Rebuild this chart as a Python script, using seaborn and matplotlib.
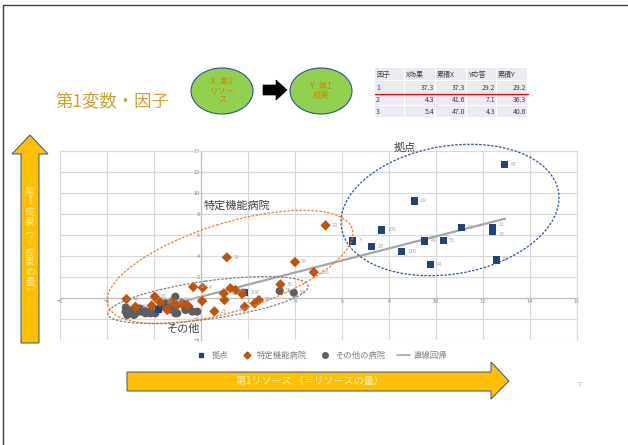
import numpy as np
import pandas as pd
import matplotlib
matplotlib.use('Agg')
import matplotlib.pyplot as plt
import seaborn as sns
from matplotlib.patches import Ellipse, Polygon, Rectangle
from matplotlib.lines import Line2D

# ---- data ----
# 拠点
kyoten_x = [12.93, 9.10, 7.68, 6.44, 7.27, 8.54, 9.50, 10.30, 9.77, 11.07, 12.40, 12.40, 12.57, 1.86, -1.80]
kyoten_y = [12.73, 9.24, 6.48, 5.43, 4.92, 4.41, 5.43, 5.49, 3.17, 6.70, 6.70, 6.38, 3.62, 0.54, -1.08]
kyoten_lab = ['87', '89', '105', '3', '28', '110', '88', '50', '41', '60', '11', '33', '52', '108', '']

# 特定機能病院
tokutei_x = [5.30, 1.10, 4.00, 4.80, 3.38, -0.33, 0.07, 1.25, 1.47, 0.97, 1.75, 1.00, 0.05, 2.46,
             2.28, 1.86, 0.57, -3.17, -2.79, -2.10, -1.97, -1.75, -1.44, -1.26, -1.01, -0.83, -0.59]
tokutei_y = [6.92, 3.87, 3.43, 2.45, 1.30, 1.05, 0.98, 0.92, 0.76, 0.44, 0.38, -0.19, -0.29, -0.19,
             -0.51, -0.83, -1.27, -0.10, -0.83, -0.73, 0.13, -0.38, -1.14, -0.38, -0.70, -0.51, -0.67]
tokutei_lab = ['22', '14', '39', '106', '36', '92', '4', '18', '55', '30', '', '', '', '47',
               '', '', '21', '44', '10', '', '16', '13', '', '23', '', '', '']

# その他の病院
sonota_x = [-3.21, -3.00, -2.79, -2.57, -2.36, -2.15, -1.94, -1.72, -1.51, -1.23, -1.01, -0.80,
            -0.66, -0.37, -0.16, -1.09, -1.58, -3.14, -2.85, -2.15, -1.09, -3.20, -2.90, -2.60,
            -2.40, -0.50, 3.35, 3.95, -1.30, -0.66]
sonota_y = [-1.30, -1.46, -1.46, -1.30, -1.46, -1.30, -1.46, -0.83, -0.50, -0.98, -1.46, -0.50,
            -1.14, -1.30, -1.30, 0.13, -0.83, -1.62, -1.62, -1.46, -1.46, -0.90, -1.10, -1.00,
            -1.20, -0.90, 0.67, 0.50, -1.10, -1.08]
sonota_lab = [''] * 26 + ['56', '58', '', '']

# 直線回帰 (end points of the Excel trendline)
trend_x = [-3.2, 12.93]
trend_y = [-1.71, 7.55]

x_ticks = list(range(-6, 17, 2))
y_ticks = list(range(-4, 15, 2))

# 因子 table
tbl_head = ['因子', 'X効果', '累積X', 'Y応答', '累積Y']
tbl_rows = [['1', '37.3', '37.3', '29.2', '29.2'],
            ['2', '4.3', '41.6', '7.1', '36.3'],
            ['3', '5.4', '47.0', '4.3', '40.6']]

groups = ['その他の病院', '拠点', '特定機能病院']
df = pd.concat([
    pd.DataFrame({'x': sonota_x, 'y': sonota_y, 'lab': sonota_lab, 'group': groups[0]}),
    pd.DataFrame({'x': kyoten_x, 'y': kyoten_y, 'lab': kyoten_lab, 'group': groups[1]}),
    pd.DataFrame({'x': tokutei_x, 'y': tokutei_y, 'lab': tokutei_lab, 'group': groups[2]}),
], ignore_index=True)

sns.set_theme(style='white')
plt.rcParams['font.family'] = ['Noto Sans CJK JP', 'DejaVu Sans']

W, H = 628, 445
fig = plt.figure(figsize=(W / 100, H / 100), dpi=100)
fig.patch.set_facecolor('white')

# chart
ax = fig.add_axes([60 / W, 1 - 340 / H, (577 - 60) / W, (340 - 151) / H])
pal = {'拠点': '#24427A', '特定機能病院': '#C0540F', 'その他の病院': '#5E5E5E'}
mk = {'拠点': 's', '特定機能病院': 'D', 'その他の病院': 'o'}
sz = {'拠点': 26, '特定機能病院': 28, 'その他の病院': 34}
sns.lineplot(x=trend_x, y=trend_y, color='#A6A6A6', lw=1.6, ax=ax, zorder=1.5)
sns.scatterplot(data=df, x='x', y='y', hue='group', style='group', size='group', sizes=sz,
                palette=pal, markers=mk, edgecolor='none', legend=False, ax=ax, zorder=3)
# small tweaks so the two labels at (12.4, 6.5) don't sit on each other
nudge = {'11': 2.5, '33': -2.5}
for _, r in df.iterrows():
    if r['lab']:
        ax.annotate(r['lab'], (r['x'], r['y']), xytext=(4.5, nudge.get(r['lab'], 0)),
                    textcoords='offset points', fontsize=3.8, color='#A6A6A6', va='center', zorder=4)

ax.set_xlim(-6, 16)
ax.set_ylim(-4, 14)
ax.set_xticks(x_ticks)
ax.set_yticks(y_ticks)
ax.grid(True, color='#D9D9D9', lw=0.8)
ax.set_axisbelow(True)
ax.spines['left'].set_position(('data', 0))
ax.spines['bottom'].set_position(('data', 0))
for s in ['left', 'bottom']:
    ax.spines[s].set_color('#BFBFBF')
    ax.spines[s].set_linewidth(0.9)
for s in ['top', 'right']:
    ax.spines[s].set_color('#D9D9D9')
    ax.spines[s].set_linewidth(0.8)
ax.tick_params(length=0, labelsize=4, colors='#8C8C8C', pad=1)
ax.set_xlabel('')
ax.set_ylabel('')

# legend under chart
handles = [Line2D([], [], ls='', marker='s', ms=3.5, color=pal['拠点']),
           Line2D([], [], ls='', marker='D', ms=3.5, color=pal['特定機能病院']),
           Line2D([], [], ls='', marker='o', ms=4, color=pal['その他の病院']),
           Line2D([], [], color='#A6A6A6', lw=1.2)]
fig.legend(handles, ['拠点', '特定機能病院', 'その他の病院', '直線回帰'], loc='center',
           bbox_to_anchor=(321 / W, 1 - 355 / H), ncol=4, frameon=False, fontsize=6,
           labelcolor='#7F7F7F', handlelength=1.6, handletextpad=0.4, columnspacing=1.4)

# overlay in pixel coordinates for the slide decorations
ov = fig.add_axes([0, 0, 1, 1])
ov.set_xlim(0, W)
ov.set_ylim(H, 0)
ov.axis('off')
ov.patch.set_alpha(0)

# slide frame
ov.plot([3, W], [5, 5], color='#404040', lw=1)
ov.plot([3, 3], [5, H], color='#404040', lw=1)

# grouping ellipses
ov.add_patch(Ellipse((450, 210), 220, 128, angle=-9.6, fill=False, ec='#2F5597', lw=0.9, ls=(0, (2, 1.2))))
ov.add_patch(Ellipse((230, 267), 256, 88, angle=-17.3, fill=False, ec='#ED7D31', lw=0.9, ls=(0, (2, 1.2))))
ov.add_patch(Ellipse((208, 300), 202, 38, angle=-8, fill=False, ec='#7F7F7F', lw=0.9, ls=(0, (2, 1.2))))
ov.text(405, 148, '拠点', fontsize=8, color='#404040', ha='center', va='center')
ov.text(237, 206, '特定機能病院', fontsize=8, color='#404040', ha='center', va='center')
ov.text(184, 329, 'その他', fontsize=8, color='#404040', ha='center', va='center')

# title
ov.text(55, 101, '第1変数・因子', fontsize=12.5, color='#C9A336', ha='left', va='center')

# X -> Y ellipses
ov.add_patch(Ellipse((222, 91), 62, 46, fc='#92D050', ec='#2F528F', lw=0.8))
ov.text(222, 91, 'X: 第1\nリソー\nス', fontsize=6, color='#BF8F00', ha='center', va='center', linespacing=1.05)
ov.add_patch(Polygon([[263, 85], [276, 85], [276, 80], [287, 90], [276, 100], [276, 95], [263, 95]],
                     closed=True, fc='black', ec='black', lw=0.5))
ov.add_patch(Ellipse((321, 91), 62, 46, fc='#92D050', ec='#2F528F', lw=0.8))
ov.text(321, 91, 'Y: 第1\n成果', fontsize=6, color='#BF8F00', ha='center', va='center', linespacing=1.1)

# factor table
col_edges = [375, 405, 436, 467, 497, 528]
row_edges = [68, 81, 94, 106, 118]
for i in range(4):
    for j in range(5):
        ov.add_patch(Rectangle((col_edges[j], row_edges[i]), col_edges[j + 1] - col_edges[j] - 1,
                               row_edges[i + 1] - row_edges[i] - 1, fc='#E9EAF2', ec='none'))
for j, h in enumerate(tbl_head):
    ov.text(col_edges[j] + 1, (row_edges[0] + row_edges[1]) / 2, h, fontsize=5,
            color='#404040', ha='left', va='center')
for i, row in enumerate(tbl_rows):
    yc = (row_edges[i + 1] + row_edges[i + 2]) / 2
    ov.text(col_edges[0] + 1, yc, row[0], fontsize=5, color='#404040', ha='left', va='center')
    for j in range(1, 5):
        ov.text(col_edges[j + 1] - 2, yc, row[j], fontsize=5, color='#404040', ha='right', va='center')
ov.plot([375, 528], [93.5, 93.5], color='red', lw=1)

# vertical arrow (成果)
ov.add_patch(Polygon([[21, 343], [21, 154], [12, 154], [30, 135], [48, 154], [39, 154], [39, 343]],
                     closed=True, fc='#FFC000', ec='#2F528F', lw=0.7))
ov.text(30, 242, '\n'.join('第1成果︵‖成果の量︶'), fontsize=7, color='#FFE699',
        ha='center', va='center', linespacing=1.0)

# horizontal arrow (リソース)
ov.add_patch(Polygon([[127, 372], [491, 372], [491, 362], [509, 381], [491, 399], [491, 391], [127, 391]],
                     closed=True, fc='#FFC000', ec='#2F528F', lw=0.7))
ov.text(310, 381, '第1リソース （＝リソースの量）', fontsize=7.2, color='#FFF2CC', ha='center', va='center')

ov.text(580, 385, '7', fontsize=5, color='#A6A6A6', ha='center', va='center')

fig.savefig('out.png', dpi=100)
